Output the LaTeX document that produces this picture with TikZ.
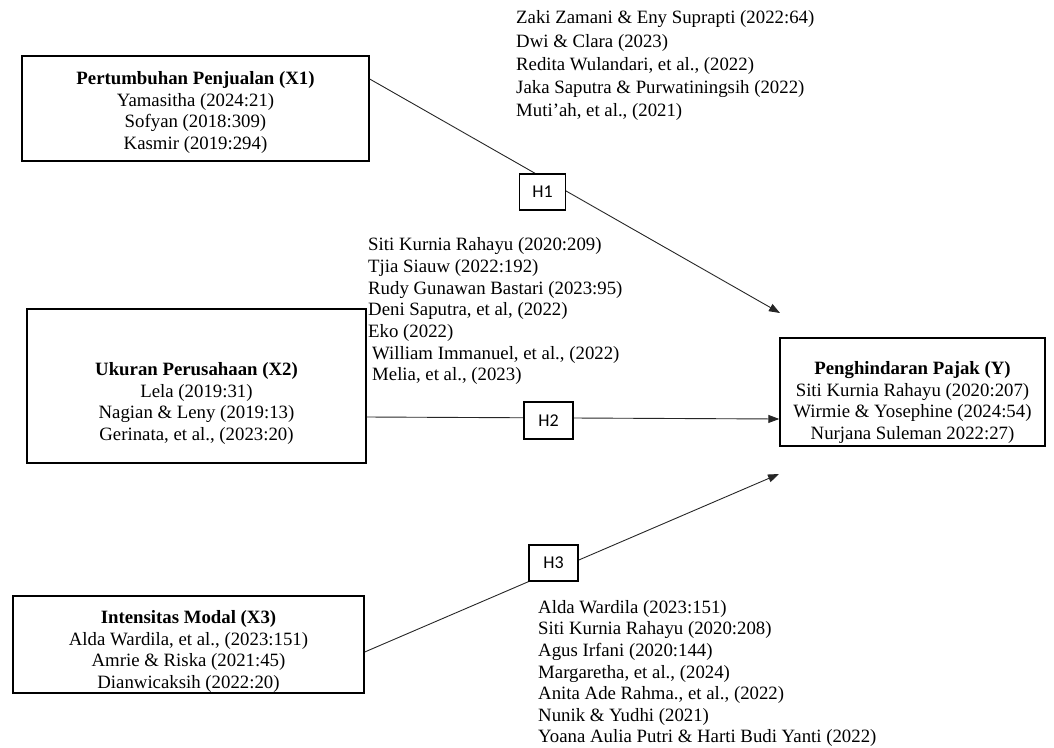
\documentclass[tikz,border=0pt]{standalone}
\usepackage{fontspec}
\setmainfont{Liberation Serif}
\newfontfamily\hypfont{Carlito}
\usetikzlibrary{arrows.meta}

\begin{document}
\begin{tikzpicture}[
    x=1pt, y=-1pt,
    >={Triangle[length=11pt, width=8pt]},
    every node/.style={font=\fontsize{18.8}{21.5}\selectfont},
    varbox/.style={draw=black, line width=1.4pt, inner sep=0pt},
    varlbl/.style={anchor=north, align=center, inner sep=0pt},
    hypbox/.style={draw=black, line width=1.2pt, fill=white, inner sep=0pt,
                   minimum width=46pt, minimum height=36pt,
                   font=\hypfont\fontsize{18}{20}\selectfont},
    reflbl/.style={anchor=north west, align=left, inner sep=0pt},
    link/.style={->, line width=0.9pt, black!85}
]
\useasboundingbox (0,0) rectangle (1054,747);
% Variable boxes
\node[varbox, minimum width=347pt, minimum height=105pt] (x1) at (195.5,108.5) {};
\node[varbox, minimum width=339pt, minimum height=154pt] (x2) at (196.5,386) {};
\node[varbox, minimum width=351pt, minimum height=97pt]  (x3) at (188.5,644.5) {};
\node[varbox, minimum width=265pt, minimum height=108pt] (yb) at (912.5,392) {};
% Box texts
\node[varlbl] (x1lbl) at (195.5,71.5) {\textbf{Pertumbuhan Penjualan (X1)}\\
    Yamasitha (2024:21)\\ Sofyan (2018:309)\\ Kasmir (2019:294)};
\node[varlbl] (x2lbl) at (196.5,362.5) {\textbf{Ukuran Perusahaan (X2)}\\
    Lela (2019:31)\\ Nagian \& Leny (2019:13)\\ Gerinata, et al., (2023:20)};
\node[varlbl] (x3lbl) at (188.5,610.5) {\textbf{Intensitas Modal (X3)}\\
    Alda Wardila, et al., (2023:151)\\ Amrie \& Riska (2021:45)\\ Dianwicaksih (2022:20)};
\node[varlbl] (ylbl) at (912.5,361.5) {\textbf{Penghindaran Pajak (Y)}\\
    Siti Kurnia Rahayu (2020:207)\\ Wirmie \& Yosephine (2024:54)\\ Nurjana Suleman 2022:27)};
% Free arrow ends
\coordinate (t1) at (780,313);
\coordinate (t3) at (779,474);
% --- Connectors
\draw[link] ([yshift=29.5pt]x1.east) -- (t1);
\draw[link] ([yshift=-31pt]x2.east) -- ([yshift=-27pt]yb.west);
\draw[link] ([yshift=-7.5pt]x3.east) -- (t3);
% --- Hypothesis boxes on the connectors
\node[hypbox] (h1) at (542.5,192) {H1};
\node[hypbox, minimum width=49pt, minimum height=37pt] (h2) at (548.5,420.5) {H2};
\node[hypbox, minimum width=49pt] (h3) at (553.5,563) {H3};
% --- References for each hypothesis
\node[reflbl, font=\fontsize{18.8}{23.3}\selectfont] (r1) at (516,10.5) {%
    Zaki Zamani \& Eny Suprapti (2022:64)\\
    Dwi \& Clara (2023)\\
    Redita Wulandari, et al., (2022)\\
    Jaka Saputra \& Purwatiningsih (2022)\\
    Muti'ah, et al., (2021)};
\node[reflbl, font=\fontsize{18.8}{21.7}\selectfont] (r2) at (368,237.5) {%
    Siti Kurnia Rahayu (2020:209)\\
    Tjia Siauw (2022:192)\\
    Rudy Gunawan Bastari (2023:95)\\
    Deni Saputra, et al, (2022)\\
    Eko (2022)\\
    \hspace*{4pt}William Immanuel, et al., (2022)\\
    \hspace*{4pt}Melia, et al., (2023)};
\node[reflbl, font=\fontsize{18.8}{21.6}\selectfont] (r3) at (538,600) {%
    Alda Wardila (2023:151)\\
    Siti Kurnia Rahayu (2020:208)\\
    Agus Irfani (2020:144)\\
    Margaretha, et al., (2024)\\
    Anita Ade Rahma., et al., (2022)\\
    Nunik \& Yudhi (2021)\\
    Yoana Aulia Putri \& Harti Budi Yanti (2022)};
\end{tikzpicture}
\end{document}
